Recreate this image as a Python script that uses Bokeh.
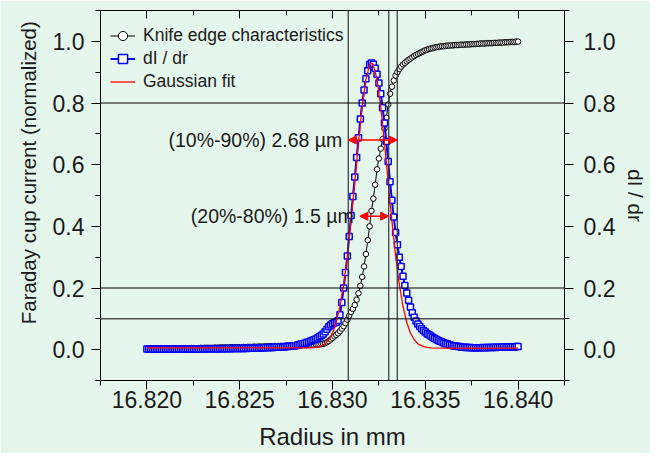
import numpy as np
from bokeh.plotting import figure
from bokeh.models import (LinearAxis, SingleIntervalTicker, PrintfTickFormatter, Span,
                          Arrow, NormalHead, Label, Legend, LegendItem, ColumnDataSource)
from bokeh.embed import file_html
from bokeh.resources import INLINE

# ---------------- data ----------------
# scan positions: 16.820 ... 16.840 mm in 0.1 um steps
RADIUS_START = 16.820
RADIUS_STOP = 16.840
N_POINTS = 201

KNIFE_EDGE = [
    0.002, 0.002, 0.003, 0.002, 0.003, 0.003, 0.002, 0.003, 0.003, 0.003,
    0.003, 0.003, 0.004, 0.003, 0.004, 0.004, 0.004, 0.004, 0.004, 0.004,
    0.004, 0.005, 0.004, 0.005, 0.005, 0.005, 0.005, 0.005, 0.005, 0.006,
    0.005, 0.006, 0.006, 0.006, 0.006, 0.006, 0.006, 0.007, 0.006, 0.007,
    0.007, 0.007, 0.007, 0.007, 0.007, 0.008, 0.007, 0.008, 0.008, 0.008,
    0.008, 0.008, 0.009, 0.008, 0.009, 0.009, 0.009, 0.009, 0.010, 0.009,
    0.010, 0.010, 0.010, 0.010, 0.011, 0.010, 0.011, 0.011, 0.011, 0.012,
    0.011, 0.012, 0.012, 0.012, 0.012, 0.013, 0.013, 0.013, 0.013, 0.014,
    0.014, 0.014, 0.014, 0.015, 0.015, 0.015, 0.015, 0.016, 0.016, 0.016,
    0.016, 0.017, 0.017, 0.017, 0.018, 0.019, 0.021, 0.024, 0.028, 0.033,
    0.038, 0.043, 0.048, 0.053, 0.060, 0.068, 0.076, 0.086, 0.097, 0.110,
    0.122, 0.132, 0.145, 0.162, 0.183, 0.207, 0.236, 0.270, 0.310, 0.355,
    0.400, 0.450, 0.490, 0.535, 0.585, 0.620, 0.652, 0.683, 0.717, 0.752,
    0.795, 0.830, 0.853, 0.873, 0.889, 0.900, 0.910, 0.918, 0.925, 0.930,
    0.935, 0.940, 0.944, 0.948, 0.952, 0.956, 0.959, 0.962, 0.965, 0.968,
    0.971, 0.973, 0.975, 0.977, 0.978, 0.980, 0.981, 0.982, 0.983, 0.984,
    0.984, 0.985, 0.986, 0.986, 0.987, 0.987, 0.988, 0.988, 0.988, 0.989,
    0.989, 0.989, 0.990, 0.990, 0.990, 0.991, 0.991, 0.991, 0.992, 0.992,
    0.993, 0.993, 0.993, 0.994, 0.994, 0.994, 0.994, 0.995, 0.995, 0.995,
    0.996, 0.996, 0.996, 0.997, 0.997, 0.997, 0.998, 0.998, 0.998, 0.999,
    0.999,
]

DI_DR = [
    0.002, 0.001, 0.002, 0.002, 0.001, 0.002, 0.002, 0.002, 0.001, 0.002,
    0.002, 0.002, 0.002, 0.001, 0.002, 0.002, 0.002, 0.002, 0.002, 0.002,
    0.002, 0.002, 0.003, 0.002, 0.002, 0.003, 0.002, 0.003, 0.002, 0.003,
    0.003, 0.002, 0.003, 0.003, 0.003, 0.003, 0.003, 0.003, 0.003, 0.003,
    0.003, 0.003, 0.004, 0.003, 0.004, 0.003, 0.004, 0.004, 0.004, 0.004,
    0.004, 0.004, 0.004, 0.005, 0.004, 0.005, 0.005, 0.005, 0.005, 0.005,
    0.005, 0.006, 0.006, 0.006, 0.006, 0.007, 0.007, 0.007, 0.007, 0.008,
    0.008, 0.008, 0.009, 0.009, 0.009, 0.010, 0.010, 0.011, 0.011, 0.012,
    0.013, 0.014, 0.016, 0.018, 0.019, 0.021, 0.023, 0.025, 0.027, 0.030,
    0.032, 0.035, 0.038, 0.042, 0.046, 0.051, 0.058, 0.066, 0.074, 0.080,
    0.084, 0.087, 0.089, 0.095, 0.113, 0.153, 0.200, 0.250, 0.304, 0.367,
    0.435, 0.497, 0.560, 0.623, 0.687, 0.748, 0.800, 0.842, 0.879, 0.905,
    0.925, 0.930, 0.926, 0.913, 0.893, 0.865, 0.830, 0.785, 0.735, 0.675,
    0.610, 0.545, 0.485, 0.430, 0.380, 0.340, 0.300, 0.270, 0.238, 0.208,
    0.184, 0.160, 0.138, 0.120, 0.105, 0.093, 0.083, 0.075, 0.068, 0.062,
    0.057, 0.052, 0.048, 0.044, 0.040, 0.036, 0.033, 0.030, 0.027, 0.025,
    0.022, 0.020, 0.018, 0.016, 0.014, 0.013, 0.012, 0.011, 0.010, 0.009,
    0.008, 0.008, 0.007, 0.007, 0.007, 0.006, 0.006, 0.006, 0.006, 0.006,
    0.006, 0.007, 0.006, 0.007, 0.007, 0.007, 0.007, 0.008, 0.007, 0.008,
    0.008, 0.008, 0.008, 0.009, 0.008, 0.009, 0.009, 0.009, 0.009, 0.010,
    0.010,
]

GAUSS_X = [16.8200, 16.8250, 16.8280, 16.8289, 16.8293, 16.8296, 16.8298, 16.8300,
           16.8302, 16.8304, 16.8306, 16.8308, 16.8310, 16.8312, 16.8314, 16.8316,
           16.8318, 16.8320, 16.8321, 16.8322, 16.8324, 16.8326, 16.8328, 16.8330,
           16.8332, 16.8334, 16.8336, 16.8338, 16.8340, 16.8342, 16.8344, 16.8346,
           16.8349, 16.8353, 16.8360, 16.8400]
GAUSS_Y = [0.006, 0.006, 0.006, 0.006, 0.010, 0.019, 0.032, 0.054,
           0.088, 0.140, 0.211, 0.305, 0.418, 0.544, 0.672, 0.788,
           0.876, 0.924, 0.930, 0.924, 0.876, 0.788, 0.672, 0.544,
           0.418, 0.305, 0.211, 0.140, 0.088, 0.054, 0.032, 0.019,
           0.010, 0.006, 0.005, 0.005]

# marker lines: 10 %, 80 %, 90 % radii and 0.8 / 0.2 / 0.1 levels
VLINE_X = [16.83085, 16.83303, 16.83349]
HLINE_Y = [0.8, 0.2, 0.1]

# width annotations
WIDTH_LABELS = ["(10%-90%) 2.68 \u00b5m", "(20%-80%) 1.5 \u00b5m"]
WIDTH_START = [16.83085, 16.83147]
WIDTH_END = [16.83349, 16.83303]
WIDTH_LEVEL = [0.680, 0.433]

X_TICK_STEP = 0.005
Y_TICK_STEP = 0.2

# ---------------- figure ----------------
BG = "#e5f6ec"
FONT = "Liberation Sans"
TXT = "#1a1a1a"
NB = "\u00a0"

radius = np.linspace(RADIUS_START, RADIUS_STOP, N_POINTS)

p = figure(frame_width=464, frame_height=370,
           x_range=(16.8175, 16.8425), y_range=(-0.1, 1.1),
           output_backend="svg", toolbar_location=None,
           min_border_left=100, min_border_right=85, min_border_top=10, min_border_bottom=73,
           background_fill_color=BG, border_fill_color=BG)
p.xgrid.visible = False
p.ygrid.visible = False
p.outline_line_color = "black"
p.outline_line_width = 1

src = ColumnDataSource(dict(r=radius, ke=KNIFE_EDGE, di=DI_DR))
gsrc = ColumnDataSource(dict(x=GAUSS_X, y=GAUSS_Y))

ke_line = p.line("r", "ke", source=src, line_color="black", line_width=1)
ke_pts = p.scatter("r", "ke", source=src, marker="circle", size=5.5,
                   line_color="black", line_width=1, fill_color="white")
di_line = p.line("r", "di", source=src, line_color="#0000ff", line_width=2)
di_pts = p.scatter("r", "di", source=src, marker="square", size=6,
                   line_color="#0000ff", line_width=1.5, fill_color="white")
g_line = p.line("x", "y", source=gsrc, line_color="#ff0000", line_width=1.3)

for xv in VLINE_X:
    p.add_layout(Span(location=xv, dimension="height", line_color="#333333", line_width=1.2))
for yv in HLINE_Y:
    p.add_layout(Span(location=yv, dimension="width", line_color="black", line_width=1))

for lab, xs, xe, yv in zip(WIDTH_LABELS, WIDTH_START, WIDTH_END, WIDTH_LEVEL):
    p.add_layout(Arrow(x_start=xs, y_start=yv, x_end=xe, y_end=yv,
                       line_color="#ff0000", line_width=1.5,
                       start=NormalHead(size=8, fill_color="#ff0000", line_color="#ff0000"),
                       end=NormalHead(size=8, fill_color="#ff0000", line_color="#ff0000")))
    p.add_layout(Label(x=xs, y=yv, text=lab, x_offset=-6, text_align="right",
                       text_baseline="middle", text_font=FONT, text_font_size="19.5px",
                       text_color=TXT))

# axes
xt = SingleIntervalTicker(interval=X_TICK_STEP, num_minor_ticks=2)
yt = SingleIntervalTicker(interval=Y_TICK_STEP, num_minor_ticks=2)

def style(ax, labels=True, inward=False):
    ax.axis_line_color = "black"
    ax.axis_line_width = 1
    ax.major_tick_line_color = "black"
    ax.minor_tick_line_color = "black"
    if inward:
        ax.major_tick_in, ax.major_tick_out = 8, 0
        ax.minor_tick_in, ax.minor_tick_out = 5, 0
    else:
        ax.major_tick_in, ax.major_tick_out = 0, 9
        ax.minor_tick_in, ax.minor_tick_out = 0, 5
    ax.major_label_text_font = FONT
    ax.major_label_text_font_size = "23px"
    ax.major_label_text_color = TXT if labels else None
    ax.axis_label_text_font = FONT
    ax.axis_label_text_font_size = "20.5px"
    ax.axis_label_text_font_style = "normal"
    ax.axis_label_text_color = TXT

xa = p.xaxis[0]
xa.ticker = xt
xa.formatter = PrintfTickFormatter(format="%.3f")
xa.axis_label = "Radius in mm"
style(xa)
xa.axis_label_text_font_size = "24px"
xa.major_label_standoff = 1
xa.axis_label_standoff = 12

ya = p.yaxis[0]
ya.ticker = yt
ya.formatter = PrintfTickFormatter(format="%.1f")
ya.axis_label = NB * 8 + "Faraday cup current (normalized)"
style(ya)
ya.major_label_standoff = 7
ya.axis_label_standoff = 10

ra = LinearAxis(ticker=yt, formatter=PrintfTickFormatter(format="%.1f"), axis_label="dI / dr")
style(ra)
ra.major_label_standoff = 10
ra.axis_label_standoff = 6
p.add_layout(ra, "right")

ta = LinearAxis(ticker=xt, formatter=PrintfTickFormatter(format="%.3f"))
style(ta, labels=False, inward=True)
ta.major_label_text_font_size = "0px"
ta.major_label_standoff = 0
p.add_layout(ta, "above")

legend = Legend(items=[
    LegendItem(label="Knife edge characteristics", renderers=[ke_line, ke_pts]),
    LegendItem(label="dI / dr", renderers=[di_line, di_pts]),
    LegendItem(label="Gaussian fit", renderers=[g_line]),
], location=(8, 285))
legend.background_fill_alpha = 0
legend.border_line_alpha = 0
legend.margin = 0
legend.padding = 2
legend.spacing = 0
legend.glyph_width = 25
legend.glyph_height = 23
legend.label_height = 23
legend.label_standoff = 8
legend.label_text_font = FONT
legend.label_text_font_size = "17.5px"
legend.label_text_color = TXT
p.add_layout(legend)

open("out.html", "w").write(file_html(p, INLINE))
